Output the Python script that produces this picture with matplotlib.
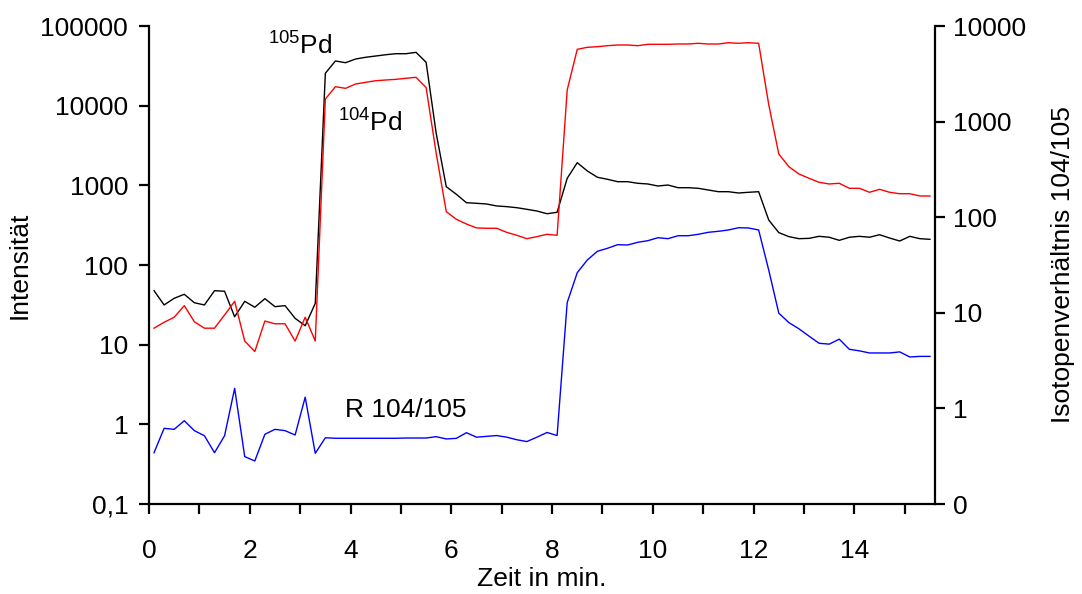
import matplotlib
matplotlib.use("Agg")
import matplotlib.pyplot as plt
from matplotlib.ticker import FixedLocator, NullLocator, FixedFormatter

plt.rcParams['font.family'] = ['Liberation Sans', 'DejaVu Sans']
plt.rcParams['mathtext.fontset'] = 'custom'
plt.rcParams['mathtext.rm'] = 'Liberation Sans'
plt.rcParams['mathtext.it'] = 'Liberation Sans'
plt.rcParams['mathtext.bf'] = 'Liberation Sans'

# time in minutes
zeit = [0.1, 0.3, 0.5, 0.7, 0.9, 1.1, 1.3, 1.5, 1.7, 1.9,
        2.1, 2.3, 2.5, 2.7, 2.9, 3.1, 3.3, 3.5, 3.7, 3.9,
        4.1, 4.3, 4.5, 4.7, 4.9, 5.1, 5.3, 5.5, 5.7, 5.9,
        6.1, 6.3, 6.5, 6.7, 6.9, 7.1, 7.3, 7.5, 7.7, 7.9,
        8.1, 8.3, 8.5, 8.7, 8.9, 9.1, 9.3, 9.5, 9.7, 9.9,
        10.1, 10.3, 10.5, 10.7, 10.9, 11.1, 11.3, 11.5, 11.7, 11.9,
        12.1, 12.3, 12.5, 12.7, 12.9, 13.1, 13.3, 13.5, 13.7, 13.9,
        14.1, 14.3, 14.5, 14.7, 14.9, 15.1, 15.3, 15.5]

# 105Pd intensity (black)
pd105 = [47.6, 31.5, 38.2, 42.9, 33.6, 31.5, 47.6, 46.8, 22.4, 35.0,
         29.5, 37.8, 30.0, 30.9, 21.4, 17.3, 33.0, 25500, 36400, 34600,
         38500, 40500, 42000, 43600, 44900, 44900, 46700, 35000, 4500, 962,
         772, 605, 595, 583, 551, 540, 524, 500, 476, 440,
         459, 1225, 1925, 1514, 1262, 1191, 1111, 1111, 1061, 1040,
         981, 1009, 934, 934, 918, 874, 832, 832, 801, 818,
         832, 367, 255, 227, 214, 216, 229, 223, 204, 223,
         229, 223, 240, 218, 200, 229, 214, 210]

# 104Pd intensity (red)
pd104 = [16.1, 19.1, 22.1, 30.9, 19.4, 16.1, 16.1, 23.6, 35.0, 11.1,
         8.2, 19.8, 18.3, 18.3, 11.1, 22.1, 11.1, 12100, 17300, 16500,
         18700, 19650, 20570, 21000, 21400, 22070, 22700, 16900, 2525, 467,
         375, 327, 292, 289, 289, 257, 236, 214, 227, 243,
         236, 15700, 51000, 54000, 55000, 56600, 57750, 57750, 56600, 58900,
         58900, 58900, 59430, 59430, 60660, 59430, 59430, 61700, 60660, 61700,
         60660, 10300, 2473, 1714, 1388, 1225, 1092, 1040, 1061, 918,
         918, 818, 891, 818, 785, 785, 735, 735]

# isotope ratio 104/105 (blue, right axis)
ratio = [0.344, 0.619, 0.604, 0.743, 0.585, 0.518, 0.344, 0.518, 1.62, 0.313,
         0.282, 0.536, 0.604, 0.585, 0.527, 1.31, 0.339, 0.493, 0.487, 0.487,
         0.487, 0.487, 0.487, 0.487, 0.487, 0.49, 0.49, 0.49, 0.506, 0.479,
         0.486, 0.557, 0.50, 0.51, 0.52, 0.50, 0.47, 0.45, 0.50, 0.56,
         0.52, 12.8, 26.3, 35.7, 44.0, 47.3, 51.6, 51.2, 54.6, 56.8,
         61.0, 59.6, 64.0, 64.0, 66.2, 69.5, 71.2, 73.5, 77.6, 77.1,
         73.5, 28.0, 9.9, 7.9, 6.8, 5.7, 4.8, 4.7, 5.3, 4.15,
         4.0, 3.8, 3.8, 3.8, 3.9, 3.45, 3.5, 3.5]

left_ticks = [0.1, 1, 10, 100, 1000, 10000, 100000]
left_labels = ['0,1', '1', '10', '100', '1000', '10000', '100000']
right_ticks = [0.1, 1, 10, 100, 1000, 10000]
right_labels = ['0', '1', '10', '100', '1000', '10000']
x_major = [0, 2, 4, 6, 8, 10, 12, 14]
x_minor = [1, 3, 5, 7, 9, 11, 13, 15]

FS = 19

fig = plt.figure(figsize=(10.82, 5.94), dpi=100)
ax = fig.add_axes([149/1082, 1-504/594, (935-149)/1082, (504-26)/594])
ax2 = ax.twinx()

ax.plot(zeit, pd105, color='black', lw=1.0, zorder=3)
ax.plot(zeit, pd104, color='#ff0000', lw=1.0, zorder=3)
ax2.plot(zeit, ratio, color='#0000ff', lw=1.0, zorder=3)

ax.set_yscale('log')
ax2.set_yscale('log')
ax.set_ylim(0.1, 100000)
ax2.set_ylim(0.1, 10000)
ax.set_xlim(0, 15.6)

ax.yaxis.set_major_locator(FixedLocator(left_ticks))
ax.yaxis.set_major_formatter(FixedFormatter(left_labels))
ax.yaxis.set_minor_locator(NullLocator())
ax2.yaxis.set_major_locator(FixedLocator(right_ticks))
ax2.yaxis.set_major_formatter(FixedFormatter(right_labels))
ax2.yaxis.set_minor_locator(NullLocator())

ax.xaxis.set_major_locator(FixedLocator(x_major))
ax.xaxis.set_minor_locator(FixedLocator(x_minor))

for a in (ax, ax2):
    a.spines['top'].set_visible(False)
    for s in a.spines.values():
        s.set_linewidth(1.6)
ax.spines['right'].set_visible(False)
ax2.spines['left'].set_visible(False)
ax2.spines['bottom'].set_visible(False)

ax.tick_params(axis='both', which='both', direction='out', length=7, width=1.6,
               labelsize=FS, pad=8)
ax.tick_params(axis='x', which='major', pad=18)
ax2.tick_params(axis='y', which='both', direction='out', length=7, width=1.6,
                labelsize=FS, pad=6)

ax.set_xlabel('Zeit in min.', fontsize=FS, labelpad=3)
ax.set_ylabel('Intensität', fontsize=FS, labelpad=6)
ax2.set_ylabel('Isotopenverhältnis 104/105', fontsize=FS, labelpad=18)

ax.text(2.37, 43300, r'$^{105}$Pd', fontsize=FS, ha='left', va='baseline')
ax.text(3.76, 4710, r'$^{104}$Pd', fontsize=FS, ha='left', va='baseline')
ax.text(3.89, 1.25, 'R 104/105', fontsize=FS, ha='left', va='baseline')

fig.savefig('out.png', dpi=100)
